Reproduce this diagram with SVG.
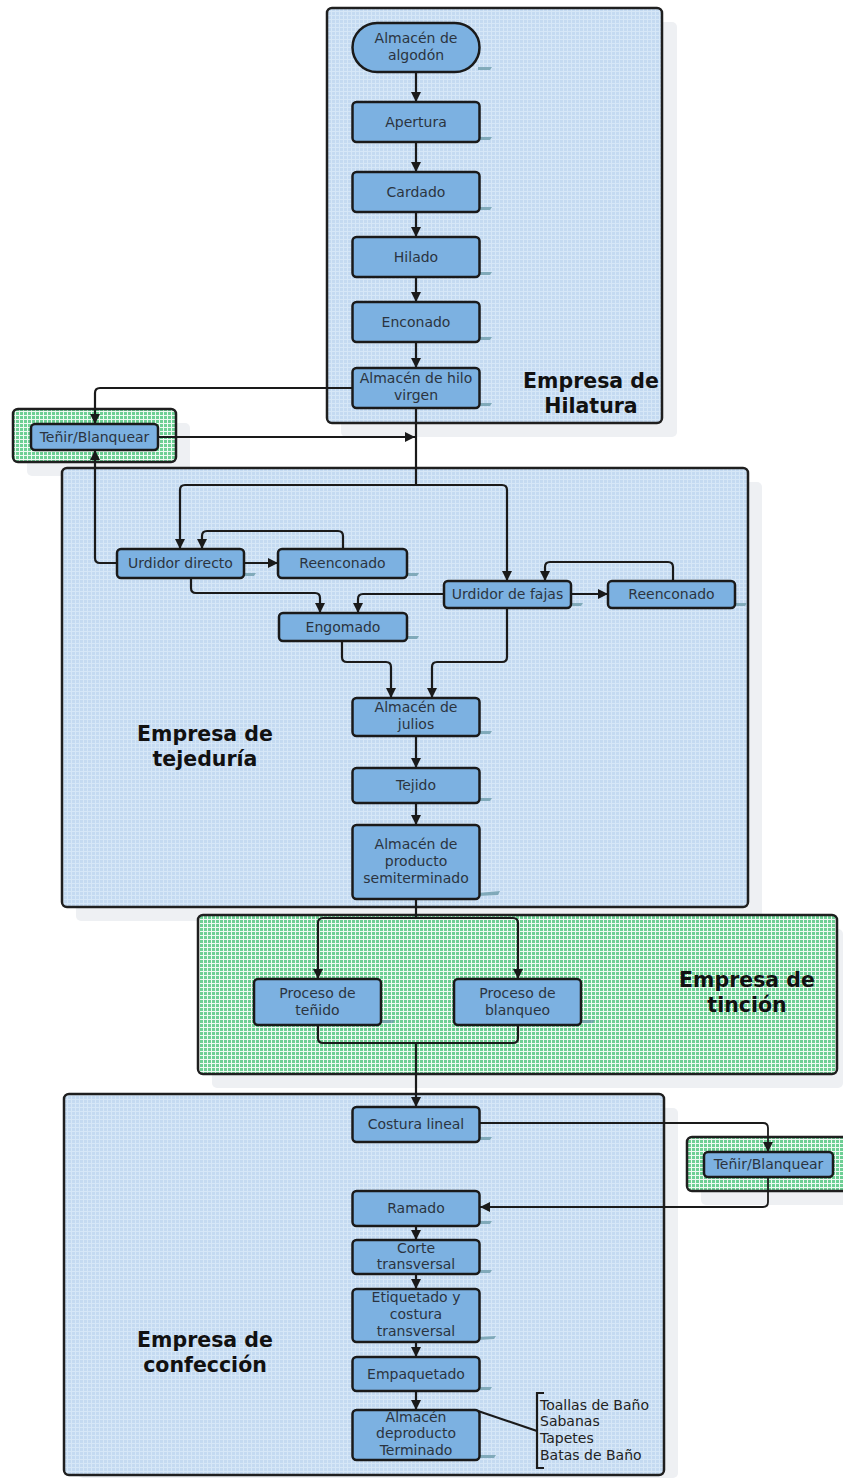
<svg xmlns="http://www.w3.org/2000/svg" width="843" height="1478" viewBox="0 0 843 1478">
<defs>
<pattern id="pBlue" patternUnits="userSpaceOnUse" width="4" height="4">
<rect width="4" height="4" fill="#d6e7f7"/>
<rect width="3" height="3" fill="#c4daf1"/>
</pattern>
<pattern id="pGreen" patternUnits="userSpaceOnUse" width="4" height="4">
<rect width="4" height="4" fill="#eefaf2"/>
<rect width="3" height="3" fill="#6dcf94"/>
</pattern>
<marker id="arr" viewBox="0 0 10 10" refX="10" refY="5" markerWidth="10" markerHeight="10" markerUnits="userSpaceOnUse" orient="auto">
<path d="M0,0 L10,5 L0,10 z" fill="#1a1a1a"/>
</marker>
<style>
.cont{stroke:#1f1f1f;stroke-width:2.5}
.blue{fill:url(#pBlue)}
.green{fill:url(#pGreen)}
.cshadow{fill:#eef0f3}
.node{fill:#7cb1e1;stroke:#1a1a1a;stroke-width:2.5}
.nsh{fill:#6e9cab;opacity:.8}
.nt{font-family:"DejaVu Sans",Verdana,sans-serif;font-size:14px;fill:#2b3440;text-anchor:middle}
.lt{font-family:"DejaVu Sans",Verdana,sans-serif;font-size:14px;fill:#222}
.ct{font-family:"DejaVu Sans",Verdana,sans-serif;font-size:20.5px;font-weight:bold;fill:#111;text-anchor:middle}
.c{fill:none;stroke:#1a1a1a;stroke-width:2.2}
.ca{fill:none;stroke:#1a1a1a;stroke-width:2.2;marker-end:url(#arr)}
.ct2{fill:none;stroke:#1a1a1a;stroke-width:1.8}
</style>
</defs>
<rect width="843" height="1478" fill="#ffffff"/>

<!-- containers -->
<g id="hilatura">
<rect class="cshadow" x="341" y="22" width="336" height="415" rx="5"/>
<rect class="cont blue" x="327" y="8" width="335" height="415" rx="5"/>
<text class="ct" x="591" y="388">Empresa de</text>
<text class="ct" x="591" y="413">Hilatura</text>
</g>
<g id="tenir1-cont">
<rect class="cshadow" x="27" y="423" width="163" height="53" rx="5"/>
<rect class="cont green" x="13" y="409" width="163" height="53" rx="5"/>
</g>
<g id="tejeduria">
<rect class="cshadow" x="76" y="482" width="686" height="439" rx="5"/>
<rect class="cont blue" x="62" y="468" width="686" height="439" rx="5"/>
<text class="ct" x="205" y="741">Empresa de</text>
<text class="ct" x="205" y="766">tejeduría</text>
</g>
<g id="tincion">
<rect class="cshadow" x="212" y="929" width="631" height="159" rx="5"/>
<rect class="cont green" x="198" y="915" width="639" height="159" rx="5"/>
<text class="ct" x="747" y="987">Empresa de</text>
<text class="ct" x="747" y="1012">tinción</text>
</g>
<g id="confeccion">
<rect class="cshadow" x="78" y="1108" width="600" height="370" rx="5"/>
<rect class="cont blue" x="64" y="1094" width="600" height="381" rx="5"/>
<text class="ct" x="205" y="1347">Empresa de</text>
<text class="ct" x="205" y="1372">confección</text>
</g>
<g id="tenir2-cont">
<rect class="cshadow" x="701" y="1151" width="160" height="54" rx="5"/>
<rect class="cont green" x="687" y="1137" width="170" height="54" rx="5"/>
</g>

<!-- connectors -->
<g id="connectors">
<path class="ca" d="M416,72 V102"/>
<path class="ca" d="M416,142 V172"/>
<path class="ca" d="M416,212 V237"/>
<path class="ca" d="M416,277 V302"/>
<path class="ca" d="M416,342 V368"/>
<path class="ca" d="M352,388 H100 Q95,388 95,393 V424"/>
<path class="ca" d="M158,437 H415"/>
<path class="c" d="M416,408 V485"/>
<path class="ca" d="M416,485 H185 Q180,485 180,490 V549"/>
<path class="ca" d="M416,485 H502 Q507,485 507,490 V581"/>
<path class="ca" d="M117,563 H100 Q95,563 95,558 V450"/>
<path class="ca" d="M244,563 H278"/>
<path class="ca" d="M343,549 V536 Q343,531 338,531 H207 Q202,531 202,536 V549"/>
<path class="ca" d="M191,578 V588 Q191,593 196,593 H315 Q320,593 320,598 V613"/>
<path class="ca" d="M444,594 H363 Q358,594 358,599 V613"/>
<path class="ca" d="M571,594 H608"/>
<path class="ca" d="M673,581 V567 Q673,562 668,562 H550 Q545,562 545,567 V581"/>
<path class="ca" d="M507,608 V657 Q507,662 502,662 H437 Q432,662 432,667 V698"/>
<path class="ca" d="M342,641 V657 Q342,662 347,662 H386 Q391,662 391,667 V698"/>
<path class="ca" d="M416,736 V768"/>
<path class="ca" d="M416,803 V825"/>
<path class="c" d="M416,899 V918"/>
<path class="ca" d="M416,918 H323 Q318,918 318,923 V979"/>
<path class="ca" d="M416,918 H513 Q518,918 518,923 V979"/>
<path class="c" d="M318,1025 V1038 Q318,1043 323,1043 H513 Q518,1043 518,1038 V1025"/>
<path class="ca" d="M416,1043 V1107"/>
<path class="ct2" d="M480,1123 H763 Q768,1123 768,1128 V1152" marker-end="url(#arr)"/>
<path class="ct2" d="M768,1177 V1202 Q768,1207 763,1207 H480" marker-end="url(#arr)"/>
<path class="ca" d="M416,1226 V1240"/>
<path class="ca" d="M416,1274 V1289"/>
<path class="ca" d="M416,1342 V1357"/>
<path class="ca" d="M416,1391 V1410"/>
<path class="c" d="M478,1411 L537,1431" stroke-width="2.5"/>
<path class="c" d="M544,1393 H537 V1468 H544" stroke-width="1.6"/>
</g>

<!-- nodes -->
<g id="n-algodon">
<polygon class="nsh" points="478,67 492,67 490,70 478,70"/>
<rect class="node" x="352.5" y="23" width="127" height="49" rx="24.5"/>
<text class="nt" x="416" y="43">Almacén de</text>
<text class="nt" x="416" y="60">algodón</text>
</g>
<g id="n-apertura">
<polygon class="nsh" points="478,137 492,137 490,140 478,140"/>
<rect class="node" x="352.5" y="102" width="127" height="40" rx="4"/>
<text class="nt" x="416" y="127">Apertura</text>
</g>
<g id="n-cardado">
<polygon class="nsh" points="478,207 492,207 490,210 478,210"/>
<rect class="node" x="352.5" y="172" width="127" height="40" rx="4"/>
<text class="nt" x="416" y="197">Cardado</text>
</g>
<g id="n-hilado">
<polygon class="nsh" points="478,272 492,272 490,275 478,275"/>
<rect class="node" x="352.5" y="237" width="127" height="40" rx="4"/>
<text class="nt" x="416" y="262">Hilado</text>
</g>
<g id="n-enconado">
<polygon class="nsh" points="478,337 492,337 490,340 478,340"/>
<rect class="node" x="352.5" y="302" width="127" height="40" rx="4"/>
<text class="nt" x="416" y="327">Enconado</text>
</g>
<g id="n-hilo">
<polygon class="nsh" points="478,403 492,403 490,406 478,406"/>
<rect class="node" x="352.5" y="368" width="127" height="40" rx="4"/>
<text class="nt" x="416" y="383">Almacén de hilo</text>
<text class="nt" x="416" y="400">virgen</text>
</g>
<g id="n-tenir1">
<rect class="node" x="31" y="424" width="127" height="26" rx="4"/>
<text class="nt" x="94.5" y="442">Teñir/Blanquear</text>
</g>
<g id="n-urdidor-directo">
<polygon class="nsh" points="242,573 256,573 254,576 242,576"/>
<rect class="node" x="117" y="549" width="127" height="29" rx="4"/>
<text class="nt" x="180.5" y="568">Urdidor directo</text>
</g>
<g id="n-reenconado1">
<polygon class="nsh" points="405,573 419,573 417,576 405,576"/>
<rect class="node" x="278" y="549" width="129" height="29" rx="4"/>
<text class="nt" x="342.5" y="568">Reenconado</text>
</g>
<g id="n-urdidor-fajas">
<polygon class="nsh" points="569,603 583,603 581,606 569,606"/>
<rect class="node" x="444" y="581" width="127" height="27" rx="4"/>
<text class="nt" x="507.5" y="599">Urdidor de fajas</text>
</g>
<g id="n-reenconado2">
<polygon class="nsh" points="733,603 747,603 745,606 733,606"/>
<rect class="node" x="608" y="581" width="127" height="27" rx="4"/>
<text class="nt" x="671.5" y="599">Reenconado</text>
</g>
<g id="n-engomado">
<polygon class="nsh" points="405,636 419,636 417,639 405,639"/>
<rect class="node" x="279" y="613" width="128" height="28" rx="4"/>
<text class="nt" x="343" y="632">Engomado</text>
</g>
<g id="n-julios">
<polygon class="nsh" points="478,731 492,731 490,734 478,734"/>
<rect class="node" x="352.5" y="698" width="127" height="38" rx="4"/>
<text class="nt" x="416" y="712">Almacén de</text>
<text class="nt" x="416" y="729">julios</text>
</g>
<g id="n-tejido">
<polygon class="nsh" points="478,798 492,798 490,801 478,801"/>
<rect class="node" x="352.5" y="768" width="127" height="35" rx="4"/>
<text class="nt" x="416" y="790">Tejido</text>
</g>
<g id="n-semiterminado">
<polygon class="nsh" points="478,893 500,891 498,895 478,896"/>
<rect class="node" x="352.5" y="825" width="127" height="74" rx="4"/>
<text class="nt" x="416" y="849">Almacén de</text>
<text class="nt" x="416" y="866">producto</text>
<text class="nt" x="416" y="883">semiterminado</text>
</g>
<g id="n-tenido">
<polygon class="nsh" points="379,1020 395,1020 393,1023 379,1023"/>
<rect class="node" x="254" y="979" width="127" height="46" rx="4"/>
<text class="nt" x="317.5" y="998">Proceso de</text>
<text class="nt" x="317.5" y="1015">teñido</text>
</g>
<g id="n-blanqueo">
<polygon class="nsh" points="579,1020 595,1020 593,1023 579,1023"/>
<rect class="node" x="454" y="979" width="127" height="46" rx="4"/>
<text class="nt" x="517.5" y="998">Proceso de</text>
<text class="nt" x="517.5" y="1015">blanqueo</text>
</g>
<g id="n-costura">
<polygon class="nsh" points="478,1137 492,1137 490,1140 478,1140"/>
<rect class="node" x="352.5" y="1107" width="127" height="35" rx="4"/>
<text class="nt" x="416" y="1129">Costura lineal</text>
</g>
<g id="n-tenir2">
<rect class="node" x="704" y="1152" width="129" height="25" rx="4"/>
<text class="nt" x="768.5" y="1169">Teñir/Blanquear</text>
</g>
<g id="n-ramado">
<polygon class="nsh" points="478,1221 492,1221 490,1224 478,1224"/>
<rect class="node" x="352.5" y="1191" width="127" height="35" rx="4"/>
<text class="nt" x="416" y="1213">Ramado</text>
</g>
<g id="n-corte">
<polygon class="nsh" points="478,1270 492,1270 490,1273 478,1273"/>
<rect class="node" x="352.5" y="1240" width="127" height="34" rx="4"/>
<text class="nt" x="416" y="1253">Corte</text>
<text class="nt" x="416" y="1269">transversal</text>
</g>
<g id="n-etiquetado">
<polygon class="nsh" points="478,1337 496,1336 494,1339 478,1340"/>
<rect class="node" x="352.5" y="1289" width="127" height="53" rx="4"/>
<text class="nt" x="416" y="1302">Etiquetado y</text>
<text class="nt" x="416" y="1319">costura</text>
<text class="nt" x="416" y="1336">transversal</text>
</g>
<g id="n-empaquetado">
<polygon class="nsh" points="478,1387 492,1387 490,1390 478,1390"/>
<rect class="node" x="352.5" y="1357" width="127" height="34" rx="4"/>
<text class="nt" x="416" y="1379">Empaquetado</text>
</g>
<g id="n-terminado">
<polygon class="nsh" points="478,1455 496,1455 494,1458 478,1458"/>
<rect class="node" x="352.5" y="1410" width="127" height="50" rx="4"/>
<text class="nt" x="416" y="1422">Almacén</text>
<text class="nt" x="416" y="1438">deproducto</text>
<text class="nt" x="416" y="1455">Terminado</text>
</g>
<g id="productos">
<text class="lt" x="540" y="1410">Toallas de Baño</text>
<text class="lt" x="540" y="1426">Sabanas</text>
<text class="lt" x="540" y="1443">Tapetes</text>
<text class="lt" x="540" y="1460">Batas de Baño</text>
</g>
</svg>
